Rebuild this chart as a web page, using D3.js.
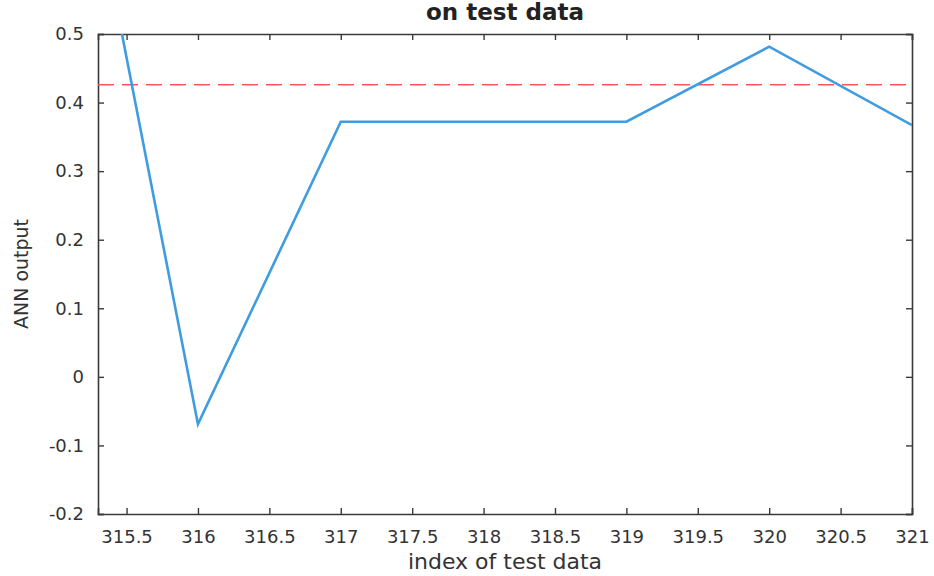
<!DOCTYPE html>
<meta charset="utf-8">
<style>
body {
  margin: 0;
  background: #fff;
}
text {
  font-family: "DejaVu Sans", sans-serif;
  fill: #333;
}
</style>
<body>
<div id="chart"></div>
<script src="https://d3js.org/d3.v7.min.js"></script>
<script>
// test index vs ANN output (first point is clipped by the axes)
var index = [315, 316, 317, 318, 319, 320, 321];
var output = [1.0, -0.069, 0.372, 0.372, 0.372, 0.4815, 0.367];
var threshold = 0.426;
var xTicks = [315.5, 316, 316.5, 317, 317.5, 318, 318.5, 319, 319.5, 320, 320.5, 321];
var yTicks = [-0.2, -0.1, 0, 0.1, 0.2, 0.3, 0.4, 0.5];

var width = 934,
    height = 576,
    margin = {top: 34, right: 22, bottom: 62, left: 98};

var svg = d3.select("#chart").append("svg")
    .attr("width", width)
    .attr("height", height);

var x = d3.scaleLinear()
    .domain([315.3, 321])
    .range([margin.left, width - margin.right]);

var y = d3.scaleLinear()
    .domain([-0.2, 0.5])
    .range([height - margin.bottom, margin.top]);

svg.append("clipPath")
    .attr("id", "clip")
  .append("rect")
    .attr("x", margin.left)
    .attr("y", margin.top)
    .attr("width", x.range()[1] - x.range()[0])
    .attr("height", y.range()[0] - y.range()[1]);

// plain hyphen for negatives, like the original
var fmt = function(d) { return String(d); };

// bottom / left axes with labels, ticks pointing inwards
var xAxis = svg.append("g")
    .attr("transform", "translate(0," + y.range()[0] + ")")
    .call(d3.axisBottom(x).tickValues(xTicks).tickSize(-6).tickPadding(16).tickFormat(fmt));
var yAxis = svg.append("g")
    .attr("transform", "translate(" + margin.left + ",0)")
    .call(d3.axisLeft(y).tickValues(yTicks).tickSize(-6).tickPadding(14).tickFormat(fmt));
// top / right axes, ticks only
var xTop = svg.append("g")
    .attr("transform", "translate(0," + margin.top + ")")
    .call(d3.axisTop(x).tickValues(xTicks).tickSize(-6).tickFormat(""));
var yRight = svg.append("g")
    .attr("transform", "translate(" + x.range()[1] + ",0)")
    .call(d3.axisRight(y).tickValues(yTicks).tickSize(-6).tickFormat(""));

[xAxis, yAxis, xTop, yRight].forEach(function(g) {
  g.select(".domain").attr("stroke", "#3a3a3a").attr("stroke-width", 1.6);
  g.selectAll(".tick line").attr("stroke", "#3a3a3a").attr("stroke-width", 1.4);
  g.selectAll(".tick text")
      .style("font-size", "18px")
      .style("font-family", "DejaVu Sans, sans-serif")
      .attr("fill", "#333");
});

var plot = svg.append("g").attr("clip-path", "url(#clip)");

// threshold
plot.append("line")
    .attr("x1", x.range()[0])
    .attr("x2", x.range()[1])
    .attr("y1", y(threshold))
    .attr("y2", y(threshold))
    .attr("stroke", "#ff5555")
    .attr("stroke-width", 1.6)
    .attr("stroke-dasharray", "16,8");

var line = d3.line()
    .x(function(d, i) { return x(index[i]); })
    .y(function(d) { return y(d); });

plot.append("path")
    .datum(output)
    .attr("d", line)
    .attr("fill", "none")
    .attr("stroke", "#3f9ce0")
    .attr("stroke-width", 2.6)
    .attr("stroke-linejoin", "miter");

svg.append("text")
    .attr("x", (x.range()[0] + x.range()[1]) / 2)
    .attr("y", 20)
    .attr("text-anchor", "middle")
    .style("font-size", "23px")
    .style("font-weight", "bold")
    .style("fill", "#222")
    .text("on test data");

svg.append("text")
    .attr("x", (x.range()[0] + x.range()[1]) / 2)
    .attr("y", 569)
    .attr("text-anchor", "middle")
    .style("font-size", "22px")
    .text("index of test data");

svg.append("text")
    .attr("transform", "translate(28," + y(0.15) + ") rotate(-90)")
    .attr("text-anchor", "middle")
    .style("font-size", "19px")
    .text("ANN output");
</script>
</body>
